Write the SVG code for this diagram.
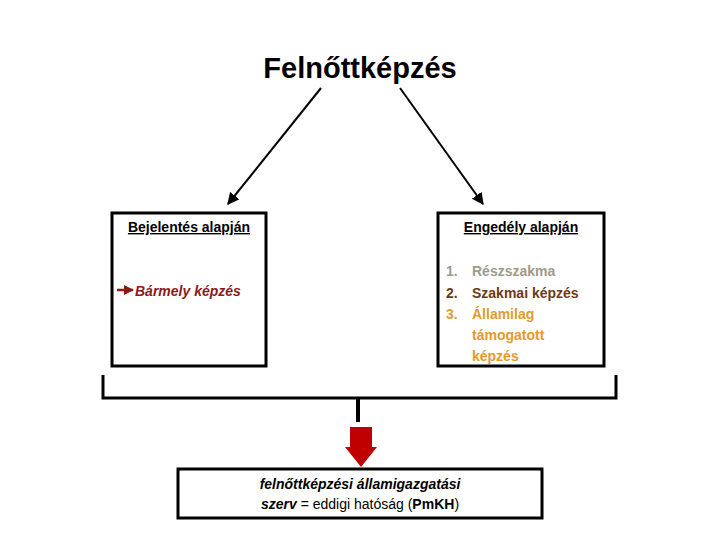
<svg xmlns="http://www.w3.org/2000/svg" width="720" height="540" viewBox="0 0 720 540">
<defs>
<style>
text{font-family:"Liberation Sans",Arial,sans-serif}
.box{fill:#fff;stroke:#000;stroke-width:3}
.ln{stroke:#000;stroke-width:2;fill:none}
.h{font-size:14px;font-weight:bold;text-decoration:underline;text-anchor:middle}
.li{font-size:14px;font-weight:bold}
</style>
<marker id="ah" viewBox="0 0 10 10" refX="9" refY="5" markerWidth="6" markerHeight="6" orient="auto"><path d="M0,0L10,5L0,10z" fill="#000"/></marker>
<marker id="rh" viewBox="0 0 10 10" refX="9" refY="5" markerWidth="4" markerHeight="4" orient="auto"><path d="M0,0L10,5L0,10z" fill="#8b1a1a"/></marker>
</defs>
<g id="title"><text x="360" y="78" font-size="29" font-weight="bold" text-anchor="middle">Felnőttképzés</text></g>
<g id="connectors">
<line class="ln" x1="321" y1="88" x2="228" y2="204" marker-end="url(#ah)"/>
<line class="ln" x1="400" y1="88" x2="483" y2="204" marker-end="url(#ah)"/>
<path d="M103,375 L103,398 L616,398 L616,375" fill="none" stroke="#000" stroke-width="3"/>
<line x1="358" y1="398" x2="358" y2="422" stroke="#000" stroke-width="4"/>
<path d="M350,427 H372 V447 H377 L361,467 L345,447 H350 Z" fill="#c00000"/>
</g>
<g id="left">
<rect class="box" x="112" y="213" width="154" height="153"/>
<text class="h" x="189" y="232">Bejelentés alapján</text>
<line x1="117" y1="290" x2="133" y2="290" stroke="#8b1a1a" stroke-width="2.5" marker-end="url(#rh)"/>
<text x="135" y="296" font-size="14" font-weight="bold" font-style="italic" fill="#8b1a1a">Bármely képzés</text>
</g>
<g id="right">
<rect class="box" x="438" y="213" width="166" height="153"/>
<text class="h" x="521" y="232">Engedély alapján</text>
<text class="li" x="446" y="276" fill="#9e9a8a">1.</text><text class="li" x="472" y="276" fill="#9e9a8a">Részszakma</text>
<text class="li" x="446" y="298" fill="#6b3a14">2.</text><text class="li" x="472" y="298" fill="#6b3a14">Szakmai képzés</text>
<text class="li" x="446" y="319" fill="#e39a2c">3.</text><text class="li" x="472" y="319" fill="#e39a2c">Államilag</text>
<text class="li" x="472" y="340" fill="#e39a2c">támogatott</text>
<text class="li" x="472" y="361" fill="#e39a2c">képzés</text>
</g>
<g id="bottom">
<rect class="box" x="178" y="469" width="364" height="49"/>
<text x="360" y="489" font-size="14" font-weight="bold" font-style="italic" text-anchor="middle">felnőttképzési államigazgatási</text>
<text x="360" y="509" font-size="14" text-anchor="middle"><tspan font-weight="bold" font-style="italic">szerv</tspan> = eddigi hatóság (<tspan font-weight="bold">PmKH</tspan>)</text>
</g>
</svg>
